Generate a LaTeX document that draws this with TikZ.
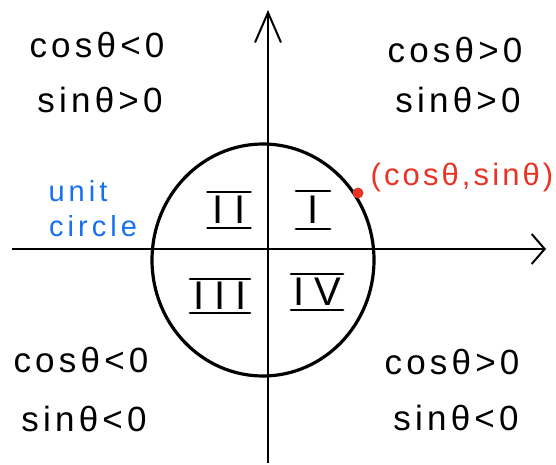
\documentclass[tikz,border=0pt]{standalone}
\usepackage{fontspec}
\setmainfont{Liberation Sans}
\usetikzlibrary{arrows.meta}
\definecolor{penred}{RGB}{232,52,38}
\definecolor{penblue}{RGB}{22,112,240}
\tikzset{
  hand/.style={font=\fontsize{35}{37}\selectfont\addfontfeatures{LetterSpace=12}, inner sep=0pt},
  redlabel/.style={font=\fontsize{31}{33}\selectfont\addfontfeatures{LetterSpace=10}, text=penred, inner sep=0pt},
  bluelabel/.style={font=\fontsize{29}{31}\selectfont\addfontfeatures{LetterSpace=14}, text=penblue, inner sep=0pt},
  numeral/.style={font=\fontsize{40}{42}\selectfont\addfontfeatures{LetterSpace=25}, inner xsep=0pt, inner ysep=0pt, minimum height=36pt},
  axis/.style={line width=2pt},
  bar/.style={line width=2.2pt, line cap=round},
}
\begin{document}
\begin{tikzpicture}[x=1pt,y=-1pt]
\useasboundingbox (0,0) rectangle (556,465);
% axes
\coordinate (xl) at (12,249);
\coordinate (xr) at (546,249);
\coordinate (yb) at (268,463);
\coordinate (yt) at (268,10);
\draw[axis,-{Straight Barb[length=13pt,width=30pt,line width=2pt]}] (xl) -- (xr);
\draw[axis,-{Straight Barb[length=30pt,width=26pt,line width=2pt]}] (yb) -- (yt);
% unit circle
\draw[line width=3.2pt] (263,260) ellipse [x radius=111, y radius=116];
% point
\fill[penred] (358,193) circle [radius=5.5];
\node[redlabel] (pt) at (462,177) {(cosθ,sinθ)};
% labels
\node[bluelabel] (unit) at (78,191) {unit};
\node[bluelabel] (circ) at (93,226) {circle};
% quadrant signs
\node[hand] (tl1) at (97,45) {cosθ<0};
\node[hand] (tl2) at (100,100) {sinθ>0};
\node[hand] (tr1) at (455,50) {cosθ>0};
\node[hand] (tr2) at (458,100) {sinθ>0};
\node[hand] (bl1) at (81,360) {cosθ<0};
\node[hand] (bl2) at (84,419) {sinθ<0};
\node[hand] (br1) at (452,362) {cosθ>0};
\node[hand] (br2) at (456,418) {sinθ<0};
% roman numerals
\node[numeral, minimum width=34pt, minimum height=38pt] (q1) at (313,210) {I};
\node[numeral, minimum width=43pt, minimum height=35pt] (q2) at (229,210) {II};
\node[numeral, minimum width=60pt, minimum height=33pt] (q3) at (220,296) {III};
\node[numeral, minimum width=52pt, minimum height=36pt] (q4) at (317,292) {IV};
\foreach \q in {q1,q2,q3,q4}{
  \draw[bar] (\q.north west) -- (\q.north east);
  \draw[bar] (\q.south west) -- (\q.south east);
}
\end{tikzpicture}
\end{document}
